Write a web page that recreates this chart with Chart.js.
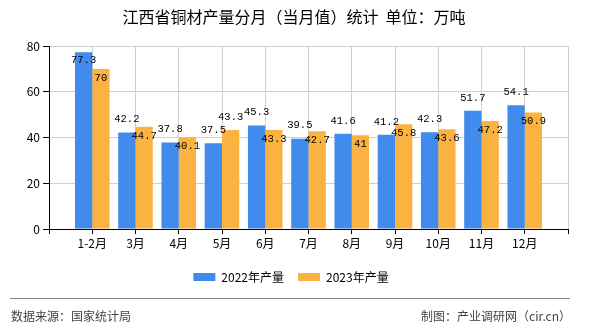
<!DOCTYPE html>
<html>
<head>
<meta charset="utf-8">
<script src="https://cdn.jsdelivr.net/npm/chart.js@4.4.0/dist/chart.umd.min.js"></script>
<style>
    html, body { margin: 0; padding: 0; background: #fff; }
    #wrap { width: 590px; height: 330px; }
</style>
</head>
<body>
<div id="wrap"><canvas id="mainChart" width="590" height="330"></canvas></div>
<script>
// 江西省铜材产量（万吨）
const months = ['1-2月', '3月', '4月', '5月', '6月', '7月', '8月', '9月', '10月', '11月', '12月'];
const output2022 = [77.3, 42.2, 37.8, 37.5, 45.3, 39.5, 41.6, 41.2, 42.3, 51.7, 54.1];
const output2023 = [70, 44.7, 40.1, 43.3, 43.3, 42.7, 41, 45.8, 43.6, 47.2, 50.9];
const yTicks = [0, 20, 40, 60, 80];

const BLUE = '#418bed';
const ORANGE = '#fab340';
const CJK = '"Noto Sans CJK SC", "Noto Sans", sans-serif';

// groups sit on the grid lines, with an empty slot at each end
const labels = [''].concat(months, ['']);
const pad = arr => [null].concat(arr, [null]);

// value labels: 2022 above the bar, 2023 inside unless there is room above
const valueLabels = {
    id: 'valueLabels',
    afterLayout(chart) {
        // centre the legend on the page rather than on the padded box
        chart.legend.left += 7;
        chart.legend.right += 7;
    },
    afterDatasetsDraw(chart) {
        const ctx = chart.ctx;
        const top = chart.chartArea.top;
        const blue = chart.getDatasetMeta(0).data;
        const orange = chart.getDatasetMeta(1).data;
        ctx.save();
        ctx.font = '10.5px "Liberation Mono", "DejaVu Sans Mono", monospace';
        ctx.fillStyle = '#000';
        ctx.textAlign = 'center';
        ctx.textBaseline = 'middle';
        for (let i = 1; i <= months.length; i++) {
            const b = blue[i], o = orange[i];
            let by = b.y - 13;
            if (by < top + 10) by = b.y + 8;
            ctx.fillText(String(output2022[i - 1]), b.x, by);
            let oy = o.y - 13;
            if (Math.abs(oy - by) < 12) oy = o.y + 9;
            ctx.fillText(String(output2023[i - 1]), o.x, oy);
        }
        ctx.restore();
    }
};

// title, separator and source lines
const frame = {
    id: 'frame',
    afterDraw(chart) {
        const ctx = chart.ctx;
        ctx.save();
        ctx.fillStyle = '#000';
        ctx.font = '16px ' + CJK;
        ctx.textAlign = 'center';
        ctx.textBaseline = 'middle';
        ctx.fillText('江西省铜材产量分月（当月值）统计  单位：万吨', 294, 17);

        ctx.strokeStyle = '#888';
        ctx.lineWidth = 1;
        ctx.beginPath();
        ctx.moveTo(10, 298.5);
        ctx.lineTo(570, 298.5);
        ctx.stroke();

        ctx.fillStyle = '#444';
        ctx.font = '12px ' + CJK;
        ctx.textAlign = 'left';
        ctx.fillText('数据来源：国家统计局', 11, 316);
        ctx.textAlign = 'right';
        ctx.fillText('制图：产业调研网（cir.cn）', 571, 316);
        ctx.restore();
    }
};

const ctx = document.getElementById('mainChart').getContext('2d');
new Chart(ctx, {
    type: 'bar',
    data: {
        labels: labels,
        datasets: [{
            label: '2022年产量',
            data: pad(output2022),
            backgroundColor: BLUE
        }, {
            label: '2023年产量',
            data: pad(output2023),
            backgroundColor: ORANGE
        }]
    },
    options: {
        responsive: false,
        animation: false,
        layout: { padding: { top: 46, right: 22, bottom: 37, left: 0 } },
        datasets: {
            bar: { categoryPercentage: 0.8, barPercentage: 1.0, grouped: true }
        },
        scales: {
            x: {
                offset: false,
                grid: { color: '#d0d0d0', tickColor: '#000', tickLength: 5, offset: false },
                border: { color: '#000' },
                ticks: {
                    color: '#000',
                    font: { size: 12, family: CJK },
                    maxRotation: 0,
                    autoSkip: false,
                    padding: 2
                },
                afterFit(scale) { scale.height = 28; }
            },
            y: {
                min: 0,
                max: 80,
                afterBuildTicks(scale) { scale.ticks = yTicks.map(v => ({ value: v })); },
                grid: { color: '#d0d0d0', tickColor: '#000', tickLength: 6 },
                border: { color: '#000' },
                ticks: {
                    color: '#000',
                    font: { size: 12, family: CJK },
                    padding: 3
                },
                afterFit(scale) { scale.width = 49; }
            }
        },
        plugins: {
            legend: {
                position: 'bottom',
                labels: {
                    boxWidth: 22,
                    boxHeight: 8,
                    padding: 14,
                    color: '#000',
                    font: { size: 12, family: CJK }
                }
            },
            tooltip: { enabled: false }
        }
    },
    plugins: [valueLabels, frame]
});
</script>
</body>
</html>
